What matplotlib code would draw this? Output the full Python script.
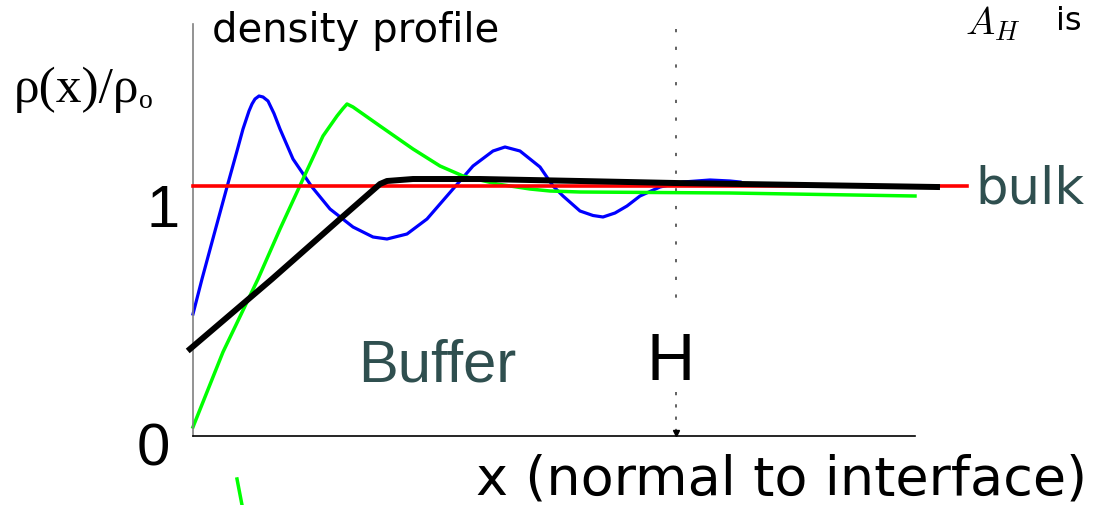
import matplotlib
matplotlib.use("Agg")
import matplotlib.pyplot as plt

# FIGURE SIZE (pixels)
W, H = 1097, 506

# DATA - x in arbitrary units along the normal (0 .. 722), density relative to bulk
blue_x = [0, 9, 22, 34, 44, 50, 56, 59, 62, 66, 70, 75, 81, 87, 100, 119, 137, 160, 180, 194,
          214, 234, 260, 280, 300, 312, 327, 347, 360, 370, 387, 400, 410, 422, 434, 447, 467,
          490, 517, 537, 547]
blue_rho = [0.488, 0.628, 0.82, 0.996, 1.14, 1.228, 1.3, 1.328, 1.348, 1.36, 1.356, 1.34,
            1.29, 1.228, 1.108, 0.996, 0.908, 0.836, 0.796, 0.788, 0.808, 0.868, 0.988, 1.08,
            1.14, 1.156, 1.14, 1.076, 1.0, 0.96, 0.9, 0.882, 0.876, 0.892, 0.92, 0.96, 0.996,
            1.016, 1.024, 1.02, 1.016]

green_x = [0, 30, 65, 87, 110, 130, 144, 150, 154, 160, 187, 220, 247, 270, 304, 337, 357, 387,
           537, 722]
green_rho = [0.036, 0.336, 0.628, 0.828, 1.028, 1.2, 1.28, 1.31, 1.328, 1.316, 1.24, 1.148,
             1.08, 1.04, 1.008, 0.988, 0.98, 0.976, 0.972, 0.96]

black_x = [-3, 79, 147, 187, 194, 220, 287, 387, 482, 744]
black_rho = [0.348, 0.628, 0.868, 1.008, 1.02, 1.028, 1.028, 1.02, 1.012, 0.996]

bulk_x = [0, 774]
bulk_rho = [1.0, 1.0]

# stray green stroke below the axis
stray_x = [44, 49, 50]
stray_rho = [-0.172, -0.276, -0.30]

x_H = 483
H_upper = [1.628, 0.52]
H_lower = [0.176, 0.0]


def fpos(px, py):
    return px / W, 1 - py / H


fig = plt.figure(figsize=(W / 100, H / 100), dpi=100)
ax = fig.add_axes([193 / W, (H - 437) / H, 722 / W, 412 / H])
ax.set_xlim(0, 722)
ax.set_ylim(0, 1.648)
ax.set_xticks([])
ax.set_yticks([])
for s in ["top", "right"]:
    ax.spines[s].set_visible(False)
ax.spines["left"].set_color("#808080")
ax.spines["left"].set_linewidth(1.2)
ax.spines["bottom"].set_color("black")
ax.spines["bottom"].set_linewidth(1.2)

# CURVES
ax.plot(blue_x, blue_rho, color="#0000ff", lw=2.3, clip_on=False, zorder=2,
        solid_joinstyle="round")
ax.plot(green_x, green_rho, color="#00ff00", lw=2.5, clip_on=False, zorder=2,
        solid_joinstyle="round")
ax.plot(stray_x, stray_rho, color="#00ff00", lw=2.5, clip_on=False, zorder=2)
ax.plot(bulk_x, bulk_rho, color="#ff0000", lw=2.6, clip_on=False, zorder=3)
ax.plot(black_x, black_rho, color="black", lw=4.3, clip_on=False, zorder=4,
        solid_joinstyle="round")

# H marker line
ax.plot([x_H, x_H], H_upper, color="#555555", lw=1.3, ls=(0, (1.8, 8)), zorder=1)
ax.plot([x_H, x_H], H_lower, color="#555555", lw=1.3, ls=(0, (1.8, 5)), zorder=1)
ax.plot([x_H], [0.012], marker="v", color="black", markersize=4, clip_on=False, zorder=5)

# TEXTS
sans = "DejaVu Sans"
arial = "Liberation Sans"
fig.text(*fpos(212, 42), "density profile", fontsize=29, family=sans, va="baseline")
rho_lbl = fig.text(*fpos(14, 102), "ρ(x)/ρ", fontsize=37, family="Liberation Serif",
                   va="baseline")
r = fig.canvas.get_renderer()
bb = rho_lbl.get_window_extent(renderer=r)
fig.text(bb.x1 / W, 1 - 108 / H, "o", fontsize=20, family="Liberation Serif", va="baseline")
fig.text(*fpos(163, 227), "1", fontsize=43, family=arial, va="baseline", ha="center")
fig.text(*fpos(153, 466), "0", fontsize=43, family=arial, va="baseline", ha="center")
fig.text(*fpos(975, 203), "bulk", fontsize=37, family=sans, va="baseline", color="#2f4f4f")
fig.text(*fpos(358, 382), "Buffer", fontsize=43, family=arial, va="baseline", color="#2f4f4f")
fig.text(*fpos(671, 380), "H", fontsize=48, family=arial, va="baseline", ha="center")
fig.text(*fpos(476, 495), "x (normal to interface)", fontsize=39, family=sans, va="baseline")
plt.rcParams["mathtext.fontset"] = "cm"
fig.text(*fpos(965, 34), r"$A_H$", fontsize=28, va="baseline")
fig.text(*fpos(1056, 30), "is", fontsize=23, family=sans, va="baseline")

fig.savefig("out.png", dpi=100)
